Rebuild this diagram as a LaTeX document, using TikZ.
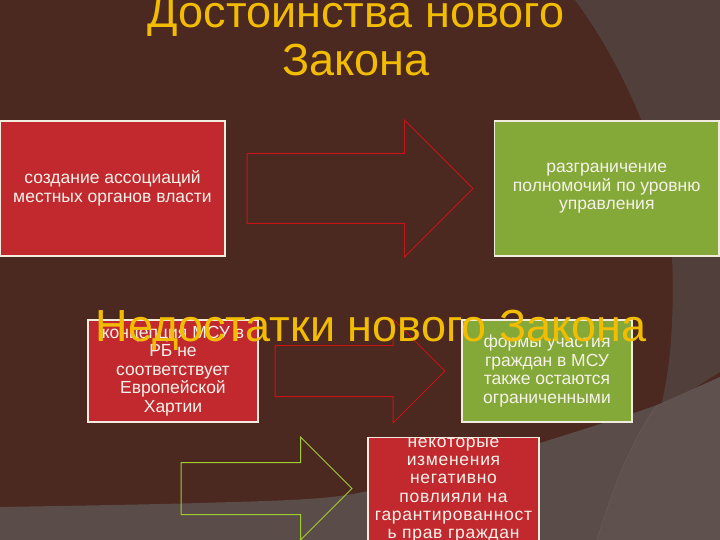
\documentclass[tikz,border=0pt]{standalone}
\usepackage{fontspec}
\setmainfont{Liberation Sans}
\newfontfamily\spacedfont[LetterSpace=4]{Liberation Sans}
\usetikzlibrary{shapes.arrows}

\definecolor{bgdark}{RGB}{75,40,32}
\definecolor{bgmid}{RGB}{80,63,58}
\definecolor{bglight}{RGB}{90,76,72}
\definecolor{bglighter}{RGB}{94,81,78}
\definecolor{bgline}{RGB}{104,90,86}
\definecolor{titlegold}{RGB}{242,188,0}
\definecolor{boxred}{RGB}{193,41,46}
\definecolor{boxgreen}{RGB}{133,169,57}
\definecolor{boxline}{RGB}{242,236,222}
\definecolor{boxtext}{RGB}{246,242,234}
\definecolor{arrowred}{RGB}{196,22,22}
\definecolor{arrowgreen}{RGB}{160,204,48}

\tikzset{
  slidetitle/.style={text=titlegold, align=center, inner sep=0pt,
    font=\fontsize{45}{48}\selectfont},
  textbox/.style={draw=boxline, line width=1.3pt, text=boxtext, align=center,
    inner sep=0pt, font=\fontsize{17.5}{18.5}\selectfont},
  redbox/.style={textbox, fill=boxred},
  greenbox/.style={textbox, fill=boxgreen},
  blockarrow/.style={single arrow, anchor=tail, line width=1pt, inner xsep=0pt, outer sep=0pt}
}

\begin{document}
\begin{tikzpicture}[x=1pt,y=-1pt]
\useasboundingbox (0,0) rectangle (720,540);
\clip (0,0) rectangle (720,540);
% background
\fill[bgdark] (0,0) rectangle (720,540);
\fill[bgmid] (575,0) .. controls (612,50) and (668,150) .. (672,257)
  .. controls (675,330) and (668,380) .. (660,410) -- (720,372) -- (720,0) -- cycle;
\fill[bglight] plot[smooth] coordinates {(0,507) (200,503) (340,496) (450,470) (540,443) (657,405) (720,377)}
  -- (720,540) -- (0,540) -- cycle;
\fill[bglighter] (597,540) .. controls (615,480) and (635,435) .. (657,405) -- (720,377) -- (720,540) -- cycle;
\draw[bgline, line width=0.6pt] (597,540) .. controls (615,480) and (635,435) .. (657,405);

% first row
\node[redbox, minimum width=225pt, minimum height=135pt] (assoc) at (112.5,188.5)
  {создание ассоциаций\\местных органов власти};
\node[blockarrow, draw=arrowred, inner ysep=34.5pt, minimum height=226pt,
  single arrow head extend=33.5pt] (gain) at (247,188.5) {};
\node[greenbox, minimum width=224.5pt, minimum height=135pt] (powers) at (606.75,188.5)
  {разграничение\\полномочий по уровню\\управления};

% second row
\node[redbox, minimum width=170pt, minimum height=102pt] (charter) at (173,371)
  {концепция МСУ в\\РБ не\\соответствует\\Европейской\\Хартии};
\node[blockarrow, draw=arrowred, inner ysep=25pt, minimum height=170pt,
  single arrow head extend=26.5pt] (lack) at (275,371) {};
\node[greenbox, minimum width=170pt, minimum height=102pt] (forms) at (547,371)
  {формы участия\\граждан в МСУ\\также остаются\\ограниченными};

% third row
\node[blockarrow, draw=arrowgreen, inner ysep=25.5pt, minimum height=171pt,
  single arrow head extend=25.5pt] (effect) at (181,488.5) {};
\node[redbox, minimum width=171pt, minimum height=104pt,
  font=\spacedfont\fontsize{17.5}{18.3}\selectfont] (rights) at (453.5,490)
  {некоторые\\изменения\\негативно\\повлияли на\\гарантированност\\ь прав граждан};

% titles
\node[slidetitle, anchor=base] (plus) at (356,76) {Достоинства нового\\Закона};
\node[slidetitle, anchor=base] (minus) at (371,341) {Недостатки нового Закона};
\end{tikzpicture}
\end{document}
